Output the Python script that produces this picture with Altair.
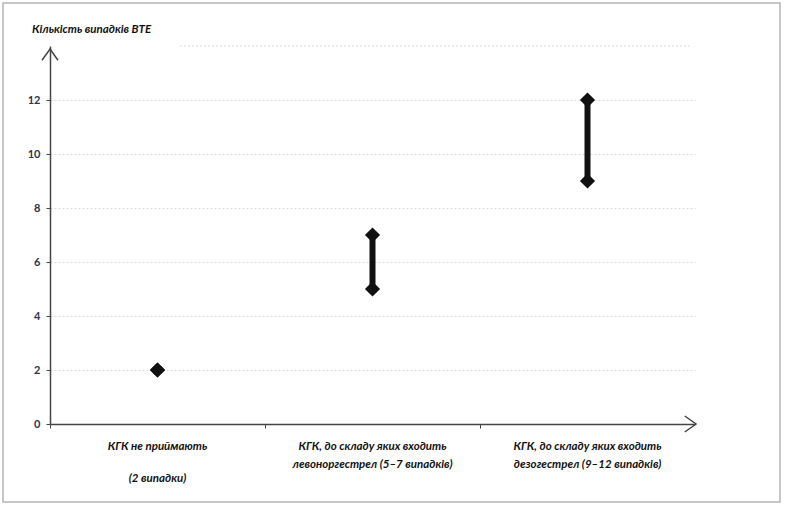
import altair as alt
import pandas as pd

categories = ["A", "B", "C"]
label_line1 = ["КГК не приймають", "КГК, до складу яких входить", "КГК, до складу яких входить"]
label_line2 = ["", "левоноргестрел (5–7  випадків)", "дезогестрел (9–12  випадків)"]
label_line3 = ["(2 випадки)", "", ""]
low = [2, 5, 9]
high = [2, 7, 12]
y_ticks = [0, 2, 4, 6, 8, 10, 12]
top_grid = [14]
title_text = "Кількість випадків ВТЕ"

W, H = 645, 378
FONT = "Lato"

df = pd.DataFrame({"cat": categories, "lo": low, "hi": high,
                   "l1": label_line1, "l2": label_line2, "l3": label_line3})
ends = pd.DataFrame({"cat": categories * 2, "v": low + high})

xscale = alt.Scale(domain=categories, paddingInner=0, paddingOuter=0)
xenc = alt.X(
    "cat:N", sort=categories, title=None, scale=xscale,
    axis=alt.Axis(
        labels=False, bandPosition=0, tickSize=4,
        tickColor="#444", domainColor="#444", domainWidth=1.5, grid=False,
    ),
)
yscale = alt.Scale(domain=[0, 14], nice=False)

base_axis_y = alt.Axis(
    values=y_ticks, title=None, grid=True, gridDash=[2, 2], gridColor="#d9d9d9",
    labelFont=FONT, labelFontSize=11, labelFontWeight="bold", labelColor="#2b3550",
    domainColor="#444", domainWidth=1.5, tickSize=4, tickColor="#444", labelPadding=6,
)

rules = alt.Chart(df).mark_rule(color="#111", strokeWidth=6).encode(
    x=xenc,
    y=alt.Y("lo:Q", scale=yscale, axis=base_axis_y),
    y2="hi:Q",
)

pts = alt.Chart(ends).mark_point(
    shape="diamond", filled=True, size=230, color="#111", opacity=1
).encode(x=alt.X("cat:N", scale=xscale), y=alt.Y("v:Q", scale=yscale))

def label_layer(field, ypix):
    return alt.Chart(df).mark_text(
        font=FONT, fontSize=11.5, fontStyle="italic", fontWeight="bold", color="#111",
        align="center", baseline="middle",
    ).encode(x=alt.X("cat:N", scale=xscale), y=alt.value(ypix), text=f"{field}:N")

lab1 = label_layer("l1", H + 23)
lab2 = label_layer("l2", H + 41)
lab3 = label_layer("l3", H + 55)

grid14 = alt.Chart(pd.DataFrame({"v": top_grid})).mark_rule(
    color="#d9d9d9", strokeDash=[2, 2]
).encode(y=alt.Y("v:Q", scale=yscale), x=alt.value(130), x2=alt.value(W - 5))

arrow_x = alt.Chart(pd.DataFrame({"a": [0]})).mark_point(
    shape="M-1.4,-1L0,0L-1.4,1", size=256, filled=False, color="#444", strokeWidth=1.5, opacity=1
).encode(x=alt.value(W + 1), y=alt.value(H))

arrow_y = alt.Chart(pd.DataFrame({"a": [0]})).mark_point(
    shape="M-1,1.4L0,0L1,1.4", size=256, filled=False, color="#444", strokeWidth=1.5, opacity=1
).encode(x=alt.value(0), y=alt.value(3))

title = alt.Chart(pd.DataFrame({"t": [title_text]})).mark_text(
    font=FONT, fontSize=11.5, fontStyle="italic", fontWeight="bold", color="#111",
    align="left", baseline="middle",
).encode(text="t:N", x=alt.value(-18), y=alt.value(-16))

border = alt.Chart(pd.DataFrame({"a": [0]})).mark_rect(
    fill=None, stroke="#b5b5b5", strokeWidth=1.5
).encode(x=alt.value(-47), x2=alt.value(W + 85), y=alt.value(-43), y2=alt.value(H + 78))

chart = alt.layer(grid14, rules, pts, lab1, lab2, lab3, arrow_x, arrow_y, title, border).properties(
    width=W, height=H,
    autosize=alt.AutoSizeParams(type="none"),
    padding={"left": 50, "top": 46, "right": 91, "bottom": 83},
    background="white",
).configure_view(stroke=None)

chart.save("out.html", embed_options={"renderer": "svg", "actions": False})
